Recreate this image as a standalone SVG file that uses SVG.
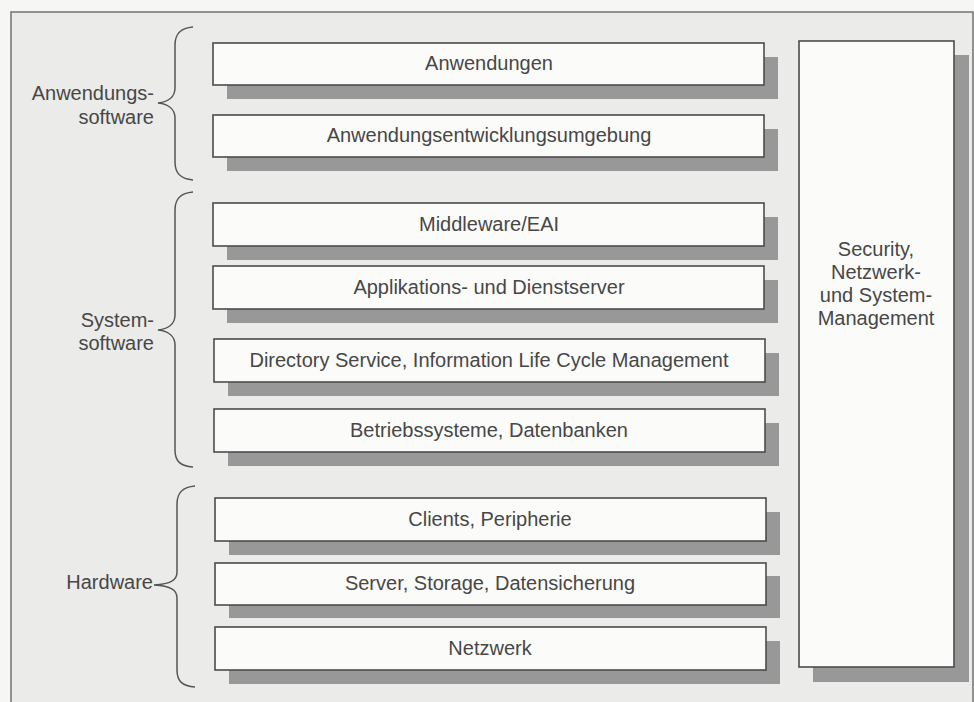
<svg xmlns="http://www.w3.org/2000/svg" width="974" height="702" viewBox="0 0 974 702">
<style>
.bg{fill:#f6f6f5}
.frame{fill:#ebebe9;stroke:#7a7a7a;stroke-width:1.6}
.sh{fill:#989898}
.box{fill:#fbfbfa;stroke:#4d4d4d;stroke-width:1.6}
.t{font-family:"Liberation Sans",Arial,sans-serif;font-size:20px;fill:#474747}
.c{text-anchor:middle}
.r{text-anchor:end}
.brace{fill:none;stroke:#555;stroke-width:1.5}
</style>
<rect class="bg" x="0" y="0" width="974" height="702"/>
<rect class="frame" x="11" y="12" width="962" height="694"/>

<g id="labels">
  <g id="lbl-anwendungssoftware">
    <text class="t r" x="154" y="100">Anwendungs-</text>
    <text class="t r" x="154" y="124">software</text>
  </g>
  <g id="lbl-systemsoftware">
    <text class="t r" x="154" y="327">System-</text>
    <text class="t r" x="154" y="350">software</text>
  </g>
  <g id="lbl-hardware">
    <text class="t r" x="153" y="589">Hardware</text>
  </g>
</g>

<g id="braces">
  <path class="brace" d="M193,27 C181,28 175,33 175,45 L175,88 C175,97 168,102 158,103 C168,104 175,109 175,118 L175,162 C175,174 181,179 193,180"/>
  <path class="brace" d="M193,192 C181,193 175,198 175,210 L175,315 C175,324 168,329 158,330 C168,331 175,336 175,345 L175,450 C175,462 181,466 193,467"/>
  <path class="brace" d="M195,486 C183,487 177,492 177,504 L177,572 C177,580 171,584 154,585 C171,586 177,590 177,598 L177,670 C177,682 183,686 195,687"/>
</g>

<g id="n-anwendungen">
  <rect class="sh" x="227" y="57" width="551" height="42"/>
  <rect class="box" x="213" y="43" width="551" height="42"/>
  <text class="t c" x="489" y="70">Anwendungen</text>
</g>
<g id="n-aeu">
  <rect class="sh" x="227" y="129" width="551" height="42"/>
  <rect class="box" x="213" y="115" width="551" height="42"/>
  <text class="t c" x="489" y="142">Anwendungsentwicklungsumgebung</text>
</g>
<g id="n-middleware">
  <rect class="sh" x="227" y="217" width="551" height="43"/>
  <rect class="box" x="213" y="203" width="551" height="43"/>
  <text class="t c" x="489" y="231">Middleware/EAI</text>
</g>
<g id="n-applikations">
  <rect class="sh" x="227" y="280" width="551" height="43"/>
  <rect class="box" x="213" y="266" width="551" height="43"/>
  <text class="t c" x="489" y="294">Applikations- und Dienstserver</text>
</g>
<g id="n-directory">
  <rect class="sh" x="228" y="353" width="551" height="43"/>
  <rect class="box" x="214" y="339" width="551" height="43"/>
  <text class="t c" x="489" y="367">Directory Service, Information Life Cycle Management</text>
</g>
<g id="n-betriebssysteme">
  <rect class="sh" x="228" y="423" width="551" height="43"/>
  <rect class="box" x="214" y="409" width="551" height="43"/>
  <text class="t c" x="489" y="437">Betriebssysteme, Datenbanken</text>
</g>
<g id="n-clients">
  <rect class="sh" x="229" y="512" width="551" height="43"/>
  <rect class="box" x="215" y="498" width="551" height="43"/>
  <text class="t c" x="490" y="526">Clients, Peripherie</text>
</g>
<g id="n-server">
  <rect class="sh" x="229" y="576" width="551" height="42"/>
  <rect class="box" x="215" y="563" width="551" height="42"/>
  <text class="t c" x="490" y="590">Server, Storage, Datensicherung</text>
</g>
<g id="n-netzwerk">
  <rect class="sh" x="229" y="641" width="551" height="43"/>
  <rect class="box" x="215" y="627" width="551" height="43"/>
  <text class="t c" x="490" y="655">Netzwerk</text>
</g>

<g id="n-security">
  <rect class="sh" x="813" y="55" width="156" height="627"/>
  <rect class="box" x="799" y="41" width="155" height="626"/>
  <text class="t c" x="876" y="256">Security,</text>
  <text class="t c" x="876" y="279">Netzwerk-</text>
  <text class="t c" x="876" y="302">und System-</text>
  <text class="t c" x="876" y="325">Management</text>
</g>

<g id="connectors"></g>
</svg>
